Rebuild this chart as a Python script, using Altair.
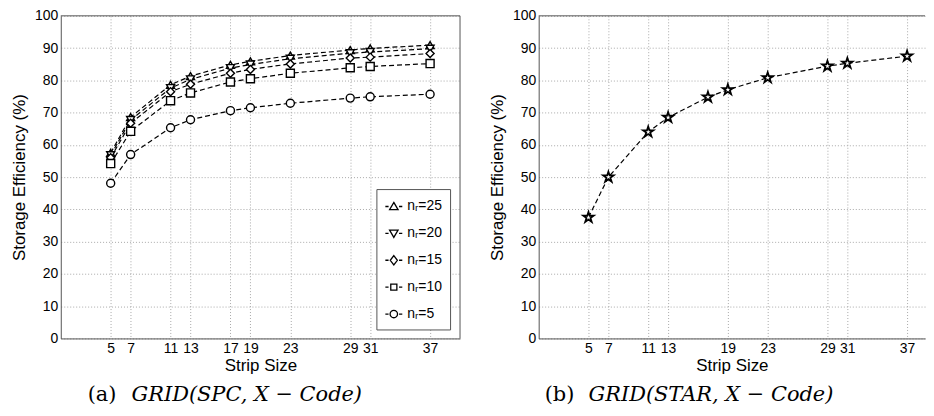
import altair as alt
import pandas as pd

# ---------------- data ----------------
strip_sizes = [5, 7, 11, 13, 17, 19, 23, 29, 31, 37]

eff_nr25 = [57.5, 68.6, 78.6, 81.3, 84.8, 85.9, 87.7, 89.4, 89.9, 90.9]
eff_nr20 = [56.8, 67.7, 77.6, 80.3, 83.8, 84.9, 86.7, 88.4, 88.8, 89.8]
eff_nr15 = [56.0, 66.7, 76.5, 78.8, 82.2, 83.4, 85.1, 86.9, 87.2, 88.3]
eff_nr10 = [54.2, 64.2, 73.7, 76.1, 79.5, 80.5, 82.2, 83.9, 84.3, 85.2]
eff_nr5 = [48.1, 57.0, 65.3, 67.8, 70.6, 71.5, 72.9, 74.5, 74.9, 75.7]

series_labels = ["nᵣ=25", "nᵣ=20", "nᵣ=15", "nᵣ=10", "nᵣ=5"]

eff_star = [37.5, 50.0, 64.0, 68.5, 74.8, 77.1, 80.8, 84.4, 85.3, 87.5]

x_ticks_a = [5, 7, 11, 13, 17, 19, 23, 29, 31, 37]
x_ticks_b = [5, 7, 11, 13, 19, 23, 29, 31, 37]
y_ticks = [0, 10, 20, 30, 40, 50, 60, 70, 80, 90, 100]

x_title = "Strip Size"
y_title = "Storage Efficiency (%)"
caption_a_tag, caption_a_math = "(a)", "GRID(SPC, X − Code)"
caption_b_tag, caption_b_math = "(b)", "GRID(STAR, X − Code)"

# ---------------- tables ----------------
rows = []
for lab, vals in zip(series_labels, [eff_nr25, eff_nr20, eff_nr15, eff_nr10, eff_nr5]):
    for s, v in zip(strip_sizes, vals):
        rows.append({"strip": s, "eff": v, "series": lab})
df_a = pd.DataFrame(rows)
df_b = pd.DataFrame({"strip": strip_sizes, "eff": eff_star})

# ---------------- styling ----------------
FONT = "Liberation Sans"
SERIF = "DejaVu Serif"
W_A, W_B, H = 401, 388, 324
X_MAX_B = 38.8
AXIS_COL = "#555555"
DASH = [5, 3]

plot_shapes = ["triangle-up", "triangle-down", "diamond", "square", "circle"]

dash_seg = "M-1,0H-0.62M0.62,0H1"
legend_paths = [
    dash_seg + "M0,-0.48L0.5,0.38L-0.5,0.38Z",
    dash_seg + "M0,0.48L0.5,-0.38L-0.5,-0.38Z",
    dash_seg + "M0,-0.55L0.42,0L0,0.55L-0.42,0Z",
    dash_seg + "M-0.36,-0.36H0.36V0.36H-0.36Z",
    dash_seg + "M0.44,0A0.44,0.44 0 1,1 -0.44,0A0.44,0.44 0 1,1 0.44,0Z",
]

star_path = ("M0,-1L0.2245,-0.309L0.951,-0.309L0.363,0.118L0.588,0.809L0,0.382"
             "L-0.588,0.809L-0.363,0.118L-0.951,-0.309L-0.2245,-0.309Z")


def x_enc(ticks, dom_max):
    return alt.X("strip:Q",
                 scale=alt.Scale(domain=[0, dom_max], nice=False, zero=False),
                 axis=alt.Axis(values=ticks, title=x_title, grid=True,
                               labelPadding=3, titlePadding=2, tickSize=0))


y_enc = alt.Y("eff:Q", scale=alt.Scale(domain=[0, 100], nice=False),
              axis=alt.Axis(values=y_ticks, title=y_title, grid=True,
                            labelPadding=3, titlePadding=6, tickSize=0))


def frame(width, right=True):
    d = pd.DataFrame({"k": [0]})
    top = alt.Chart(d).mark_rule(color=AXIS_COL, strokeWidth=1).encode(
        x=alt.value(0), x2=alt.value(width), y=alt.value(0))
    layers = [top]
    if right:
        layers.append(alt.Chart(d).mark_rule(color=AXIS_COL, strokeWidth=1).encode(
            x=alt.value(width), y=alt.value(0), y2=alt.value(H)))
    return layers


def caption(tag, math, tag_x, math_x, size):
    d = pd.DataFrame({"tag": [tag], "math": [math]})
    t1 = alt.Chart(d).mark_text(font=SERIF, fontSize=size, align="left",
                                baseline="middle", color="black").encode(
        text="tag:N", x=alt.value(tag_x), y=alt.value(H + 57))
    t2 = alt.Chart(d).mark_text(font=SERIF, fontSize=size, fontStyle="italic",
                                align="left", baseline="middle", color="black").encode(
        text="math:N", x=alt.value(math_x), y=alt.value(H + 57))
    return [t1, t2]


# ---------------- panel (a) ----------------
base_a = alt.Chart(df_a)
xa = x_enc(x_ticks_a, 40)

lines_a = base_a.mark_line(color="black", strokeDash=DASH, strokeWidth=1.2).encode(
    x=xa, y=y_enc, detail="series:N")

points_a = base_a.mark_point(filled=True, fill="white", stroke="black",
                             strokeWidth=1.4, opacity=1, size=65).encode(
    x=xa, y=y_enc,
    shape=alt.Shape("series:N",
                    scale=alt.Scale(domain=series_labels, range=plot_shapes),
                    legend=None))

legend_a = base_a.transform_filter("false").mark_point(
    filled=False, color="black", strokeWidth=1.3, opacity=1).encode(
    x=xa, y=y_enc,
    shape=alt.Shape("series:N",
                    scale=alt.Scale(domain=series_labels, range=legend_paths),
                    legend=alt.Legend(orient="none", legendX=317, legendY=174,
                                      title=None, strokeColor=AXIS_COL,
                                      fillColor="white", padding=8, rowPadding=10,
                                      symbolSize=289, symbolStrokeColor="black",
                                      symbolStrokeWidth=1.3, symbolOpacity=1,
                                      labelFont=FONT, labelFontSize=14,
                                      labelColor="black", labelOffset=4,
                                      cornerRadius=0)))

panel_a = alt.layer(
    lines_a, points_a, legend_a, *frame(W_A, True),
    *caption(caption_a_tag, caption_a_math, 27, 71, 21)
).resolve_scale(shape="independent").properties(width=W_A, height=H)

# ---------------- panel (b) ----------------
base_b = alt.Chart(df_b)
xb = x_enc(x_ticks_b, X_MAX_B)

lines_b = base_b.mark_line(color="black", strokeDash=DASH, strokeWidth=1.2).encode(
    x=xb, y=y_enc)
points_b = base_b.mark_point(filled=True, fill="white", stroke="black",
                             strokeWidth=1.8, opacity=1, size=120,
                             shape=star_path).encode(x=xb, y=y_enc)

panel_b = alt.layer(
    lines_b, points_b, *frame(W_B, False),
    *caption(caption_b_tag, caption_b_math, 6, 50, 21)
).properties(width=W_B, height=H)

chart = alt.hconcat(panel_a, panel_b, spacing=79, bounds="flush").properties(
    padding={"left": 2, "top": 0, "right": 0, "bottom": 0}
).configure_view(stroke=None).configure_axis(
    domainColor=AXIS_COL, domainWidth=1,
    labelFont=FONT, labelFontSize=14, labelColor="black",
    titleFont=FONT, titleFontSize=17, titleFontWeight="normal", titleColor="black",
    gridColor="#a8a8a8", gridDash=[1, 2], gridWidth=1, gridOpacity=1
)

chart.save("out.html", embed_options={"renderer": "svg", "actions": False})
